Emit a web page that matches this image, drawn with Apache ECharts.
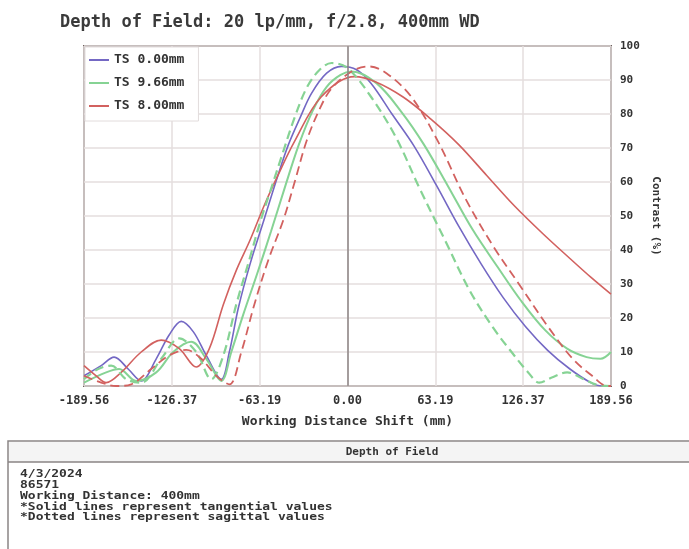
<!DOCTYPE html>
<html>
<head>
<meta charset="utf-8">
<script src="https://cdn.jsdelivr.net/npm/echarts@6/dist/echarts.min.js"></script>
<style>
html,body{margin:0;padding:0;background:#fff;}
#chart{width:689px;height:549px;}
</style>
</head>
<body>
<div id="chart"></div>
<script>
const titleText = 'Depth of Field: 20 lp/mm, f/2.8, 400mm WD';
const legendNames = ['TS 0.00mm', 'TS 9.66mm', 'TS 8.00mm'];
const xTickLabels = ['-189.56', '-126.37', '-63.19', '0.00', '63.19', '126.37', '189.56'];
const infoLines = ['4/3/2024', '86571', 'Working Distance: 400mm', '*Solid lines represent tangential values', '*Dotted lines represent sagittal values'];

// TS 0.00mm (tangential = sagittal)
const blueT = [[-189.56,3],[-177.2,6],[-167.9,8.5],[-157.8,5],[-148.4,1.5],[-137.6,8],[-128.3,15],[-119.6,19],[-111,16],[-101.6,9],[-90.8,2],[-85,10],[-78.5,23],[-70,36],[-60,49],[-50,62],[-42.5,71],[-34,79],[-26,86],[-15,92],[-4.3,94],[6.5,93],[17,89],[32,80],[48,70.5],[64,59],[80,47],[96,36],[112,26],[128,17.5],[144,10.5],[160,5],[175,1],[183,0],[189.56,0]];
// TS 9.66mm tangential
const greenT = [[-189.56,1],[-173.6,4],[-164.3,5],[-152,1.5],[-137.6,4],[-125.4,10],[-112.4,13],[-101.6,8],[-90.8,1.5],[-83.6,10],[-75,21],[-65,33],[-55,45.5],[-45,58.5],[-35,71],[-25,81],[-15,88],[-5,91.5],[3,92.5],[21,89],[39,80.5],[55,71],[72,59],[90,46],[108,35],[125,25],[142,16.5],[158,11],[172,8.5],[182,8],[189.56,10]];
// TS 9.66mm sagittal
const greenS = [[-189.56,2],[-179.4,5],[-170,6],[-159.2,2],[-148.4,1],[-134,8],[-121,14],[-108.8,10],[-98,2],[-89.3,9],[-80,24],[-70,38],[-63,48],[-55,58],[-47,68],[-38,79],[-29,88],[-20,93],[-11.5,95],[0,93.5],[17,85],[35,73],[52,58],[70,43],[88,28],[105,17],[118,10],[130,4],[138,1],[147,2.5],[158,4],[170,2],[180,0.3],[189.56,0]];
// TS 8.00mm tangential
const redT = [[-189.56,6],[-180.8,3],[-173.6,1],[-162.8,4],[-148.4,10],[-134,13.5],[-121,11],[-108.8,5.6],[-99.4,11],[-89.3,24],[-80,34],[-70,43],[-60,53],[-50,62],[-38,72],[-19,85],[5,91],[20,89.5],[40,85],[60,78.5],[80,71],[100,62],[120,53],[140,45],[160,37.5],[175,32],[189.56,27]];
// TS 8.00mm sagittal
const redS = [[-189.56,3],[-177.2,1],[-166.4,0],[-155.6,0.5],[-141.2,5],[-128.3,9],[-116,10.6],[-105.2,8],[-94.4,3],[-85,0.5],[-76.4,10],[-67,24],[-57,37],[-46,49],[-38,60],[-29.5,72],[-20,81.5],[-11.5,87.5],[3,92.5],[15,94],[28,92],[46,85],[65,72],[85,55],[105,41],[125,29],[145,17],[162,8],[176,3],[187,0],[189.56,0]];

const colors = {blue:'#7468c4', green:'#86d394', red:'#d2615f'};
const mono = '"DejaVu Sans Mono", monospace';

function mk(name, data, color, dashed, width) {
  return {
    name: name, type: 'line', data: data, smooth: 0.35, symbol: 'none',
    lineStyle: {color: color, width: width, type: dashed ? [9, 5] : 'solid'},
    itemStyle: {color: color},
    emphasis: {disabled: true}
  };
}

const series = [
  mk(legendNames[0], blueT, colors.blue, false, 1.6),
  mk(legendNames[1], greenT, colors.green, false, 2),
  mk(legendNames[2], redT, colors.red, false, 1.6),
  mk(legendNames[1], greenS, colors.green, true, 2.2),
  mk(legendNames[2], redS, colors.red, true, 1.8)
];
series[0].markLine = {
  silent: true, symbol: 'none', label: {show: false},
  lineStyle: {color: '#8c8484', width: 1.5, type: 'solid'},
  data: [{xAxis: 0}]
};

const chart = echarts.init(document.getElementById('chart'));
chart.setOption({
  animation: false,
  backgroundColor: '#fff',
  title: {
    text: titleText, left: 55, top: 9,
    textStyle: {fontFamily: mono, fontSize: 17, fontWeight: 'bold', color: '#3a3a3a'}
  },
  legend: {
    data: legendNames, orient: 'vertical', left: 85, top: 47,
    icon: 'rect', itemWidth: 20, itemHeight: 2, itemGap: 9,
    padding: [6, 14, 8, 4],
    backgroundColor: '#fff', borderColor: '#e2dcdc', borderWidth: 1,
    textStyle: {fontFamily: mono, fontSize: 13, fontWeight: 'bold', color: '#333', lineHeight: 14}
  },
  grid: {
    left: 84, right: 78, top: 46, bottom: 163,
    show: true, borderColor: '#6e625e', borderWidth: 2, backgroundColor: 'transparent'
  },
  xAxis: {
    type: 'value', min: -189.56, max: 189.56, interval: 189.56 / 3,
    name: 'Working Distance Shift (mm)', nameLocation: 'middle', nameGap: 29,
    nameTextStyle: {fontFamily: mono, fontSize: 13, fontWeight: 'bold', color: '#333'},
    axisLine: {show: false}, axisTick: {show: false},
    axisLabel: {
      margin: 9, fontFamily: mono, fontSize: 12, fontWeight: 'bold', color: '#333',
      formatter: function (v, i) { return xTickLabels[i]; }
    },
    splitLine: {lineStyle: {color: '#e5dede', width: 1.5}}
  },
  yAxis: {
    type: 'value', position: 'right', min: 0, max: 100, interval: 10,
    name: 'Contrast (%)', nameLocation: 'middle', nameGap: 38, nameRotate: -90,
    nameTextStyle: {fontFamily: mono, fontSize: 11, fontWeight: 'bold', color: '#333'},
    axisLine: {show: false}, axisTick: {show: false},
    axisLabel: {margin: 9, fontFamily: mono, fontSize: 11, fontWeight: 'bold', color: '#333'},
    splitLine: {lineStyle: {color: '#e5dede', width: 1.5}}
  },
  series: series,
  graphic: [
    {type: 'rect', shape: {x: 8, y: 441, width: 700, height: 130},
     style: {fill: '#fff', stroke: '#8a8585', lineWidth: 1.5}, silent: true},
    {type: 'rect', shape: {x: 9, y: 442, width: 700, height: 20},
     style: {fill: '#f4f4f4'}, silent: true},
    {type: 'line', shape: {x1: 8, y1: 462, x2: 689, y2: 462},
     style: {stroke: '#8a8585', lineWidth: 1.5}, silent: true},
    {type: 'text', x: 392, y: 452, silent: true,
     style: {text: 'Depth of Field', fontFamily: mono, fontSize: 11, fontWeight: 'bold',
             fill: '#333', align: 'center', verticalAlign: 'middle'}},
    {type: 'text', x: 20, y: 469, scaleX: 1.18, silent: true,
     style: {text: infoLines.join('\n'), fontFamily: mono, fontSize: 11, fontWeight: 'bold',
             lineHeight: 10.8, fill: '#333', align: 'left', verticalAlign: 'top'}}
  ]
});
</script>
</body>
</html>
